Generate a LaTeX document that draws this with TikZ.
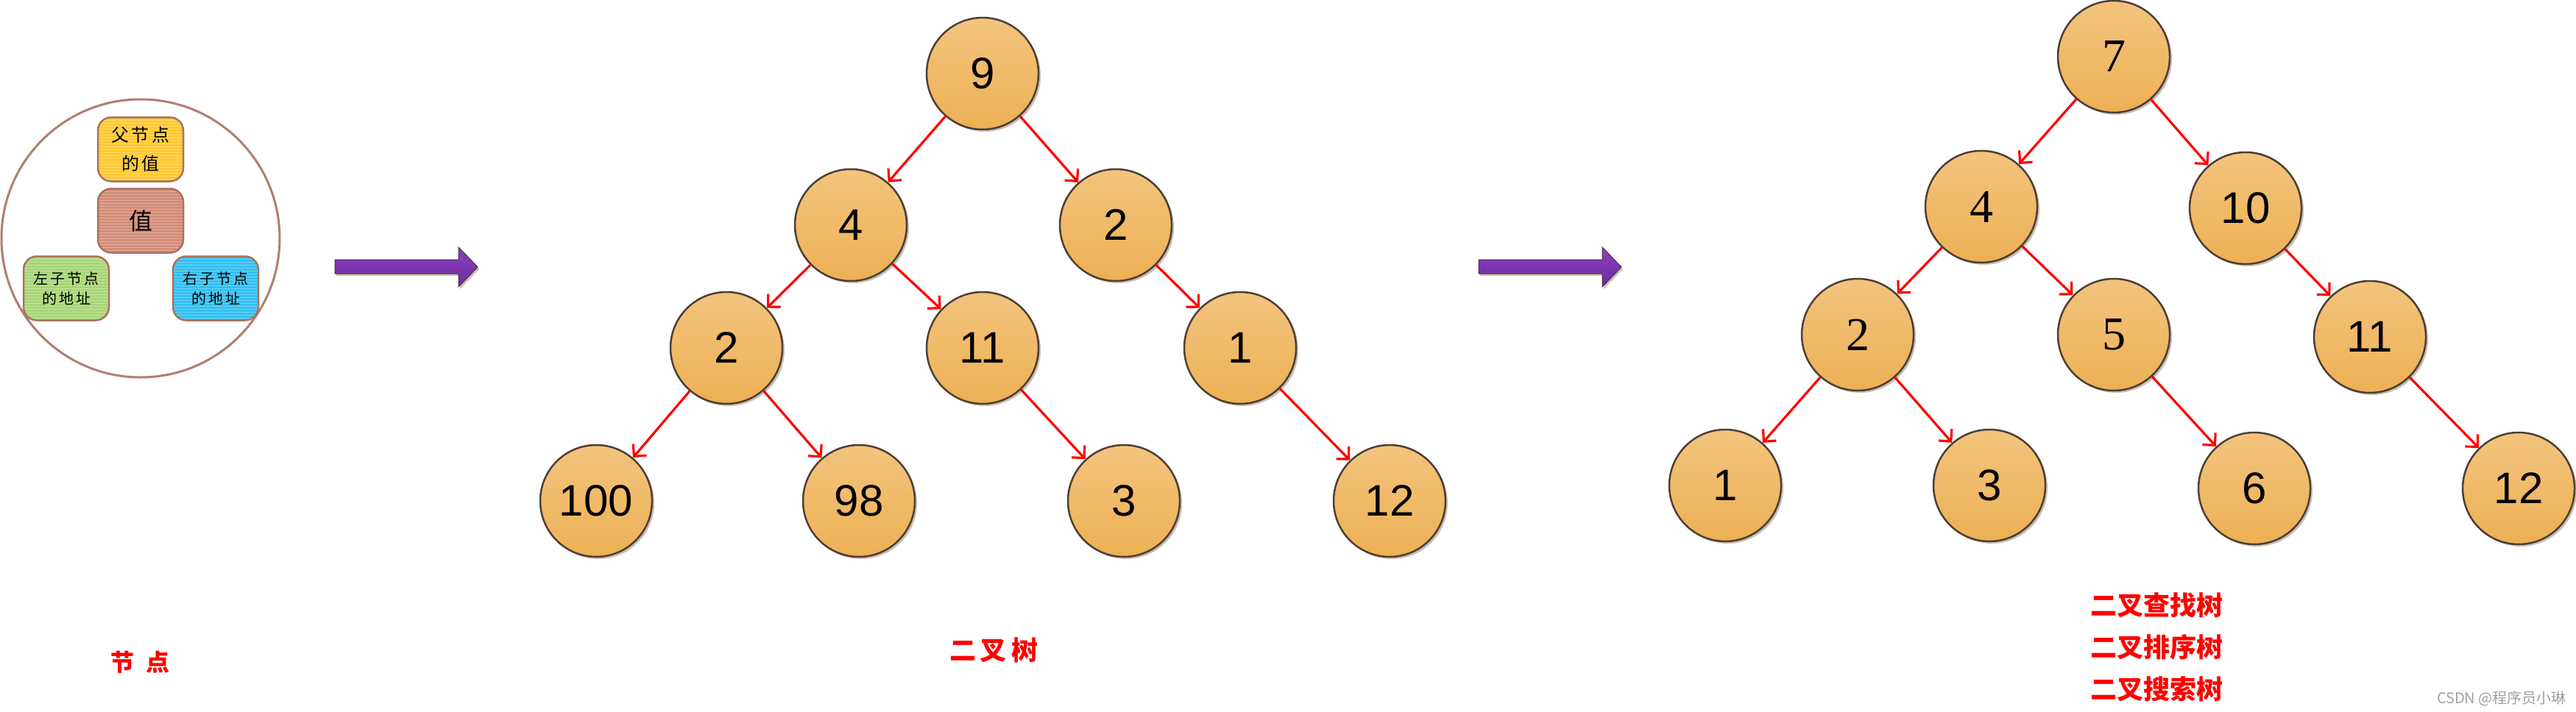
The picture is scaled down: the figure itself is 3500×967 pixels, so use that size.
\documentclass[tikz,border=0pt]{standalone}
\usepackage{fontspec}
\setmainfont{Liberation Sans}
\newfontfamily\serifdigits{Liberation Serif}
\newfontfamily\cjk{Noto Sans CJK SC}
\usetikzlibrary{arrows.meta,shadows}
\definecolor{nodetop}{HTML}{F3C47E}
\definecolor{nodebot}{HTML}{EDB054}
\definecolor{nodeedge}{HTML}{4D3F35}
\definecolor{ringc}{HTML}{B07E72}
\definecolor{boxedge}{HTML}{A8735F}
\definecolor{ybox}{HTML}{FFC933}
\definecolor{pbox}{HTML}{D48C78}
\definecolor{gbox}{HTML}{A8D677}
\definecolor{bbox}{HTML}{33C0F0}
\definecolor{purpA}{HTML}{8A3FC0}
\definecolor{purpB}{HTML}{6E2D9E}
\definecolor{purpedge}{HTML}{4A2F45}
\tikzset{
  tn/.style={circle, minimum size=152pt, inner sep=0pt,
    top color=nodetop, bottom color=nodebot, draw=nodeedge, line width=2.5pt,
    font=\fontsize{60}{60}\selectfont,
    drop shadow={shadow xshift=3pt, shadow yshift=-3pt, fill=brown!55!black, opacity=0.35}},
  tns/.style={tn, font=\serifdigits\fontsize{64}{64}\selectfont},
  edge/.style={draw=red, line width=3.2pt, -{Straight Barb[length=12pt,width=24pt]}},
  box/.style={rectangle, rounded corners=18pt, minimum width=116pt, minimum height=87pt,
    draw=boxedge, line width=2.5pt, inner sep=0pt, align=center,
    path picture={\foreach \k in {-48,-44,...,48}
      \draw[white, opacity=0.3, line width=1pt]
        ([yshift=\k pt]path picture bounding box.west) -- ([yshift=\k pt]path picture bounding box.east);}},
  redlbl/.style={text=red, font=\cjk\bfseries\fontsize{36}{57}\selectfont, inner sep=0pt, align=center},
}
\begin{document}
\begin{tikzpicture}[x=1pt,y=-1pt]
\useasboundingbox (0,0) rectangle (3500,967);
\fill[white] (0,0) rectangle (3500,967);

% ---- node structure diagram ----
\node[circle, draw=ringc, line width=3pt, minimum size=378pt, inner sep=0pt] (ring) at (191,324) {};
\node[box, fill=ybox, font=\cjk\fontsize{24}{39}\selectfont] (bparent) at (191,203)
  {父\hspace{4pt}节\hspace{4pt}点\\的\hspace{4pt}值};
\node[box, fill=pbox, font=\cjk\fontsize{32}{32}\selectfont] (bval) at (191,300) {值};
\node[box, fill=gbox, font=\cjk\fontsize{20}{27}\selectfont] (bleft) at (90,392)
  {左\hspace{3pt}子\hspace{3pt}节\hspace{3pt}点\\的\hspace{3pt}地\hspace{3pt}址};
\node[box, fill=bbox, font=\cjk\fontsize{20}{27}\selectfont] (bright) at (293,392)
  {右\hspace{3pt}子\hspace{3pt}节\hspace{3pt}点\\的\hspace{3pt}地\hspace{3pt}址};

% ---- purple arrows ----
\foreach \dx in {0,1554} {
  \begin{scope}[xshift=\dx pt]
    \fill[brown!50!gray, opacity=0.5] (457,356) -- (625,356) -- (625,339) -- (651,366) -- (625,393) -- (625,375) -- (457,375) -- cycle;
    \draw[purpedge, line width=1pt, top color=purpA, bottom color=purpB]
      (455,353) -- (623,353) -- (623,336) -- (649,363) -- (623,390) -- (623,372) -- (455,372) -- cycle;
  \end{scope}
}

% ---- binary tree ----
\node[tn] (a9) at (1335,100) {9};
\node[tn] (a4) at (1156,306) {4};
\node[tn] (a2) at (1516,306) {2};
\node[tn] (b2) at (987,473) {2};
\node[tn] (b11) at (1335,473) {11};
\node[tn] (b1) at (1685,473) {1};
\node[tn] (c100) at (810,681) {100};
\node[tn] (c98) at (1167,681) {98};
\node[tn] (c3) at (1527,681) {3};
\node[tn] (c12) at (1888,681) {12};
\draw[edge] (a9) -- (a4);
\draw[edge] (a9) -- (a2);
\draw[edge] (a4) -- (b2);
\draw[edge] (a4) -- (b11);
\draw[edge] (a2) -- (b1);
\draw[edge] (b2) -- (c100);
\draw[edge] (b2) -- (c98);
\draw[edge] (b11) -- (c3);
\draw[edge] (b1) -- (c12);

% ---- binary search tree ----
\node[tns] (s7) at (2872,77) {7};
\node[tns] (s4) at (2692,281) {4};
\node[tn] (s10) at (3051,283) {10};
\node[tns] (s2) at (2524,455) {2};
\node[tns] (s5) at (2872,455) {5};
\node[tn] (s11) at (3220,458) {11};
\node[tn] (s1) at (2344,660) {1};
\node[tn] (s3) at (2703,660) {3};
\node[tn] (s6) at (3063,664) {6};
\node[tn] (s12) at (3422,664) {12};
\draw[edge] (s7) -- (s4);
\draw[edge] (s7) -- (s10);
\draw[edge] (s4) -- (s2);
\draw[edge] (s4) -- (s5);
\draw[edge] (s10) -- (s11);
\draw[edge] (s2) -- (s1);
\draw[edge] (s2) -- (s3);
\draw[edge] (s5) -- (s6);
\draw[edge] (s11) -- (s12);

% ---- labels ----
\node[redlbl, font=\cjk\bfseries\fontsize{32}{32}\selectfont] (lnode) at (190,900) {节\hspace{16pt}点};
\node[redlbl] (ltree) at (1350,884) {二\hspace{6pt}叉\hspace{6pt}树};
\node[redlbl] (lbst) at (2930,880) {二叉查找树\\二叉排序树\\二叉搜索树};
\node[anchor=east, text=gray!75, font=\cjk\fontsize{20}{20}\selectfont, inner sep=0pt] (wm) at (3487,950) {CSDN @程序员小琳};
\end{tikzpicture}
\end{document}
